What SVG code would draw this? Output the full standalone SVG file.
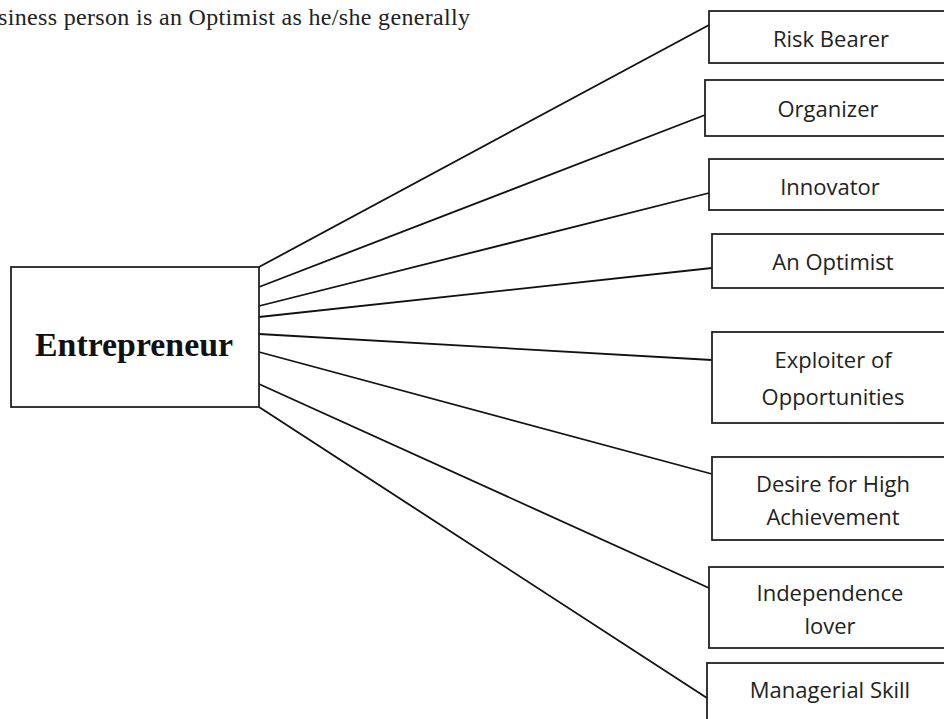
<svg xmlns="http://www.w3.org/2000/svg" width="944" height="719" viewBox="0 0 944 719">
<style>
.bg{fill:#ffffff}
.box{fill:#ffffff;stroke:#222222;stroke-width:1.8}
.lbl{font-family:"Open Sans","Noto Sans","Liberation Sans",sans-serif;font-size:22px;fill:#222222;text-anchor:middle}
.main{font-family:"Liberation Serif","Times New Roman",serif;font-size:34px;font-weight:bold;fill:#111111;text-anchor:middle}
.top{font-family:"Liberation Serif","Times New Roman",serif;font-size:24px;fill:#222222}
.con line{stroke:#111111;stroke-width:1.8}
</style>
<rect class="bg" x="0" y="0" width="944" height="719"/>
<text class="top" x="-2" y="25" textLength="472" lengthAdjust="spacing">siness person is an Optimist as he/she generally</text>
<g id="connectors" class="con">
<line x1="259" y1="267" x2="709" y2="25"/>
<line x1="259" y1="287" x2="705" y2="115"/>
<line x1="259" y1="306" x2="709" y2="193"/>
<line x1="259" y1="317" x2="712" y2="268"/>
<line x1="259" y1="334" x2="712" y2="360"/>
<line x1="259" y1="352" x2="712" y2="474"/>
<line x1="259" y1="384" x2="709" y2="588"/>
<line x1="259" y1="407" x2="707" y2="698"/>
</g>
<g id="entrepreneur">
<rect class="box" x="11" y="267" width="248" height="140"/>
<text class="main" x="134" y="356" textLength="198" lengthAdjust="spacingAndGlyphs">Entrepreneur</text>
</g>
<g id="risk-bearer">
<rect class="box" x="709" y="11" width="250" height="52"/>
<text class="lbl" x="831" y="47">Risk Bearer</text>
</g>
<g id="organizer">
<rect class="box" x="705" y="80" width="254" height="56"/>
<text class="lbl" x="828" y="117">Organizer</text>
</g>
<g id="innovator">
<rect class="box" x="709" y="159" width="250" height="51"/>
<text class="lbl" x="830" y="195">Innovator</text>
</g>
<g id="an-optimist">
<rect class="box" x="712" y="234" width="247" height="54"/>
<text class="lbl" x="833" y="270">An Optimist</text>
</g>
<g id="exploiter">
<rect class="box" x="712" y="332" width="247" height="91"/>
<text class="lbl" x="833" y="368">Exploiter of</text>
<text class="lbl" x="833" y="405">Opportunities</text>
</g>
<g id="desire">
<rect class="box" x="712" y="457" width="247" height="83"/>
<text class="lbl" x="833" y="492">Desire for High</text>
<text class="lbl" x="833" y="525">Achievement</text>
</g>
<g id="independence">
<rect class="box" x="709" y="567" width="250" height="81"/>
<text class="lbl" x="830" y="601">Independence</text>
<text class="lbl" x="830" y="634">lover</text>
</g>
<g id="managerial">
<rect class="box" x="707" y="663" width="252" height="70"/>
<text class="lbl" x="830" y="698">Managerial Skill</text>
</g>
</svg>
